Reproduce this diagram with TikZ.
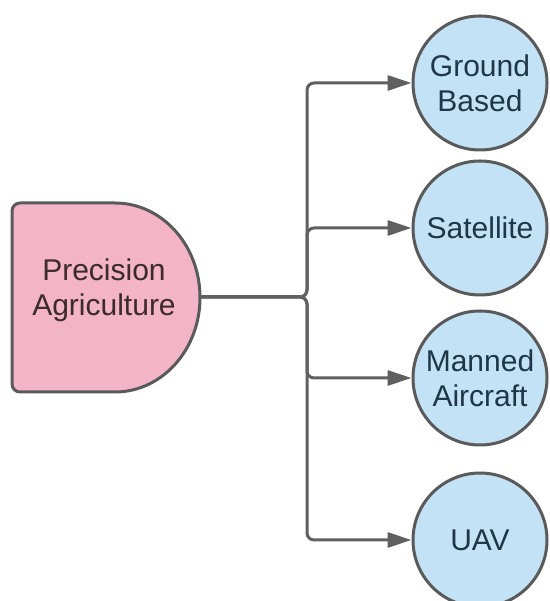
\documentclass[tikz,border=0pt]{standalone}
\usepackage{fontspec}
\setmainfont{Liberation Sans}
\usetikzlibrary{arrows.meta}
\definecolor{pinkfill}{HTML}{F2B4C6}
\definecolor{bluefill}{HTML}{C3E2F5}
\definecolor{edgegray}{HTML}{5A5A5A}
\definecolor{linegray}{HTML}{606060}
\definecolor{pinktext}{HTML}{3B2A2E}
\definecolor{bluetext}{HTML}{1E3648}
\tikzset{
  x=1pt, y=1pt,
  lbl/.style={font=\fontsize{30}{35}\selectfont, align=center, inner sep=0pt},
  target/.style={circle, minimum size=134pt, inner sep=0pt, draw=edgegray, line width=3pt, fill=bluefill, text=bluetext, lbl},
  conn/.style={draw=linegray, line width=3pt, rounded corners=7pt, -{Triangle[length=24pt,width=15pt]}},
}
\begin{document}
\begin{tikzpicture}
\useasboundingbox (0,0) rectangle (549,601);
\clip (0,0) rectangle (549,601);
% source D shape
\draw[draw=edgegray, fill=pinkfill, line width=3pt, line join=round]
  (115,209) arc[start angle=-90, end angle=90, x radius=85, y radius=94.5]
  -- (20,398) arc[start angle=90, end angle=180, radius=8]
  -- (12,217) arc[start angle=180, end angle=270, radius=8]
  -- cycle;
\coordinate (paE) at (200,304);
\node[lbl, text=pinktext] (pa) at (104,311) {Precision\\Agriculture};
\coordinate (bus) at (307,304);
% targets
\node[target] (gb) at (480,518) {Ground\\Based};
\node[target] (sat) at (480,373) {Satellite};
\node[target] (ma) at (480,223) {Manned\\Aircraft};
\node[target] (uav) at (480,61) {UAV};
% connectors
\foreach \t in {gb,sat,ma,uav}{
  \draw[conn] (paE) -| (bus |- \t.west) -- (\t.west);
}
\end{tikzpicture}
\end{document}
